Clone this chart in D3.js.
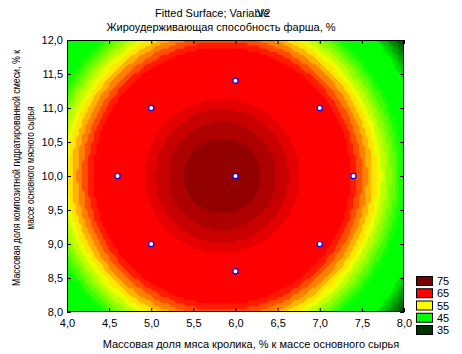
<!DOCTYPE html>
<html lang="ru">
<head>
<meta charset="UTF-8">
<style>
  body { margin: 0; background: #fff; }
  svg { display: block; font-family: Arial, "Liberation Sans", sans-serif; }
  .tick text { font-size: 11px; fill: #000; }
  .tick line { stroke: #000; }
  .ttl { font-size: 11px; fill: #000; }
</style>
</head>
<body>
<script src="https://cdn.jsdelivr.net/npm/d3@7"></script>
<script>
var width = 462, height = 354,
    plotL = 67, plotR = 404, plotT = 40, plotB = 312;

// experimental design points (x: rabbit meat %, y: composite mix %)
var pointX = [6.0, 5.0, 7.0, 4.6, 6.0, 7.4, 5.0, 7.0, 6.0];
var pointY = [11.4, 11.0, 11.0, 10.0, 10.0, 10.0, 9.0, 9.0, 8.6];

// fitted second order surface: optimum location, value there, curvature along x and y
var optimum = [5.84, 10.0];
var topValue = 87.9;
var curvature = [9.46, 6.17];

// contour step and colour ramp
var levelStep = 2;
var shadeStops = [18, 32, 43, 55, 65, 78, 88];
var shadeColors = ['#003300', '#00ff00', '#00ff00', '#ffff00', '#ff0000', '#ff0000', '#780000'];

// legend
var legendLabels = [75, 65, 55, 45, 35];
var legendColors = ['#780000', '#ff0000', '#ffff00', '#00ff00', '#003300'];

var xTicks = [4.0, 4.5, 5.0, 5.5, 6.0, 6.5, 7.0, 7.5, 8.0];
var yTicks = [8.0, 8.5, 9.0, 9.5, 10.0, 10.5, 11.0, 11.5, 12.0];

var svg = d3.select('body').append('svg')
  .attr('width', width).attr('height', height);

var x = d3.scaleLinear().domain([4, 8]).range([plotL, plotR]);
var y = d3.scaleLinear().domain([8, 12]).range([plotB, plotT]);
var shade = d3.scaleLinear().domain(shadeStops).range(shadeColors).clamp(true);

// evaluate surface on a grid
var nx = 112, ny = 90;
var gx = d3.scaleLinear().domain([0, nx]).range([4, 8]);
var gy = d3.scaleLinear().domain([0, ny]).range([12, 8]);
var values = new Array(nx * ny);
for (var j = 0; j < ny; j++) {
  for (var i = 0; i < nx; i++) {
    var dx = gx(i + 0.5) - optimum[0], dy = gy(j + 0.5) - optimum[1];
    values[j * nx + i] = topValue - curvature[0] * dx * dx - curvature[1] * dy * dy;
  }
}
var zmin = d3.min(values), zmax = d3.max(values);
var thresholds = d3.range(Math.ceil(zmin / levelStep) * levelStep, zmax, levelStep);

var contours = d3.contours().size([nx, ny]).smooth(false).thresholds(thresholds)(values);

var proj = d3.geoTransform({
  point: function(px, py) { this.stream.point(x(gx(px)), y(gy(py))); }
});
var path = d3.geoPath(proj);

svg.append('clipPath').attr('id', 'clip')
  .append('rect').attr('x', plotL).attr('y', plotT)
  .attr('width', plotR - plotL).attr('height', plotB - plotT);

var g = svg.append('g').attr('clip-path', 'url(#clip)');
g.append('rect').attr('x', plotL).attr('y', plotT)
  .attr('width', plotR - plotL).attr('height', plotB - plotT)
  .attr('fill', shade(zmin));
g.selectAll('path').data(contours).enter().append('path')
  .attr('d', path)
  .attr('fill', function(d) { return shade(d.value); })
  .attr('stroke', function(d) { return shade(d.value); })
  .attr('stroke-width', 0.5);

// axes
var fmt = function(d) { return d3.format('.1f')(d).replace('.', ','); };

var xa = svg.append('g').attr('transform', 'translate(0,' + plotB + ')')
  .call(d3.axisBottom(x).tickValues(xTicks).tickSizeInner(-4).tickSizeOuter(0).tickPadding(7).tickFormat(fmt));
var ya = svg.append('g').attr('transform', 'translate(' + plotL + ',0)')
  .call(d3.axisLeft(y).tickValues(yTicks).tickSizeInner(-4).tickSizeOuter(0).tickPadding(4).tickFormat(fmt));
var xt = svg.append('g').attr('transform', 'translate(0,' + plotT + ')')
  .call(d3.axisTop(x).tickValues(xTicks).tickSizeInner(-4).tickSizeOuter(0).tickFormat(''));
var yr = svg.append('g').attr('transform', 'translate(' + plotR + ',0)')
  .call(d3.axisRight(y).tickValues(yTicks).tickSizeInner(-4).tickSizeOuter(0).tickFormat(''));
[xa, ya, xt, yr].forEach(function(a) { a.select('.domain').remove(); a.attr('font-family', null).attr('font-size', null); });

svg.append('rect').attr('x', plotL + 0.5).attr('y', plotT + 0.5)
  .attr('width', plotR - plotL - 1).attr('height', plotB - plotT - 1)
  .attr('fill', 'none').attr('stroke', '#000');

// design points
svg.selectAll('circle.pt').data(pointX).enter().append('circle')
  .attr('class', 'pt')
  .attr('cx', function(d) { return x(d); })
  .attr('cy', function(d, i) { return y(pointY[i]); })
  .attr('r', 2.6)
  .attr('fill', '#fff').attr('stroke', '#0000ff').attr('stroke-width', 1.2);

// titles
svg.append('text').attr('class', 'ttl').attr('x', 155).attr('y', 17).text('Fitted Surface; Variable');
svg.append('text').attr('class', 'ttl').attr('x', 257).attr('y', 17).text('V2');
svg.append('text').attr('class', 'ttl').attr('x', 221).attr('y', 31)
  .attr('text-anchor', 'middle').text('Жироудерживающая способность фарша, %');
svg.append('text').attr('class', 'ttl').attr('x', 251).attr('y', 348)
  .attr('text-anchor', 'middle').text('Массовая доля мяса кролика, % к массе основного сырья');

var yt = svg.append('g').attr('transform', 'translate(0,168) rotate(-90)');
yt.append('text').attr('class', 'ttl').attr('x', 0).attr('y', 20)
  .attr('text-anchor', 'middle').attr('textLength', 236).attr('lengthAdjust', 'spacingAndGlyphs')
  .text('Массовая доля композитной гидратированной смеси, % к');
yt.append('text').attr('class', 'ttl').attr('x', 0).attr('y', 34)
  .attr('text-anchor', 'middle').attr('textLength', 123).attr('lengthAdjust', 'spacingAndGlyphs')
  .text('массе основного мясного сырья');

// legend
var lg = svg.append('g');
var ly = d3.scalePoint().domain(legendLabels).range([276, 325]);
lg.selectAll('rect').data(legendLabels).enter().append('rect')
  .attr('x', 416.5).attr('y', function(d) { return ly(d) + 0.5; })
  .attr('width', 16).attr('height', 9)
  .attr('fill', function(d, i) { return legendColors[i]; })
  .attr('stroke', '#000');
lg.selectAll('text').data(legendLabels).enter().append('text')
  .attr('class', 'ttl')
  .attr('x', 437).attr('y', function(d) { return ly(d) + 9; })
  .text(function(d) { return d; });
</script>
</body>
</html>
